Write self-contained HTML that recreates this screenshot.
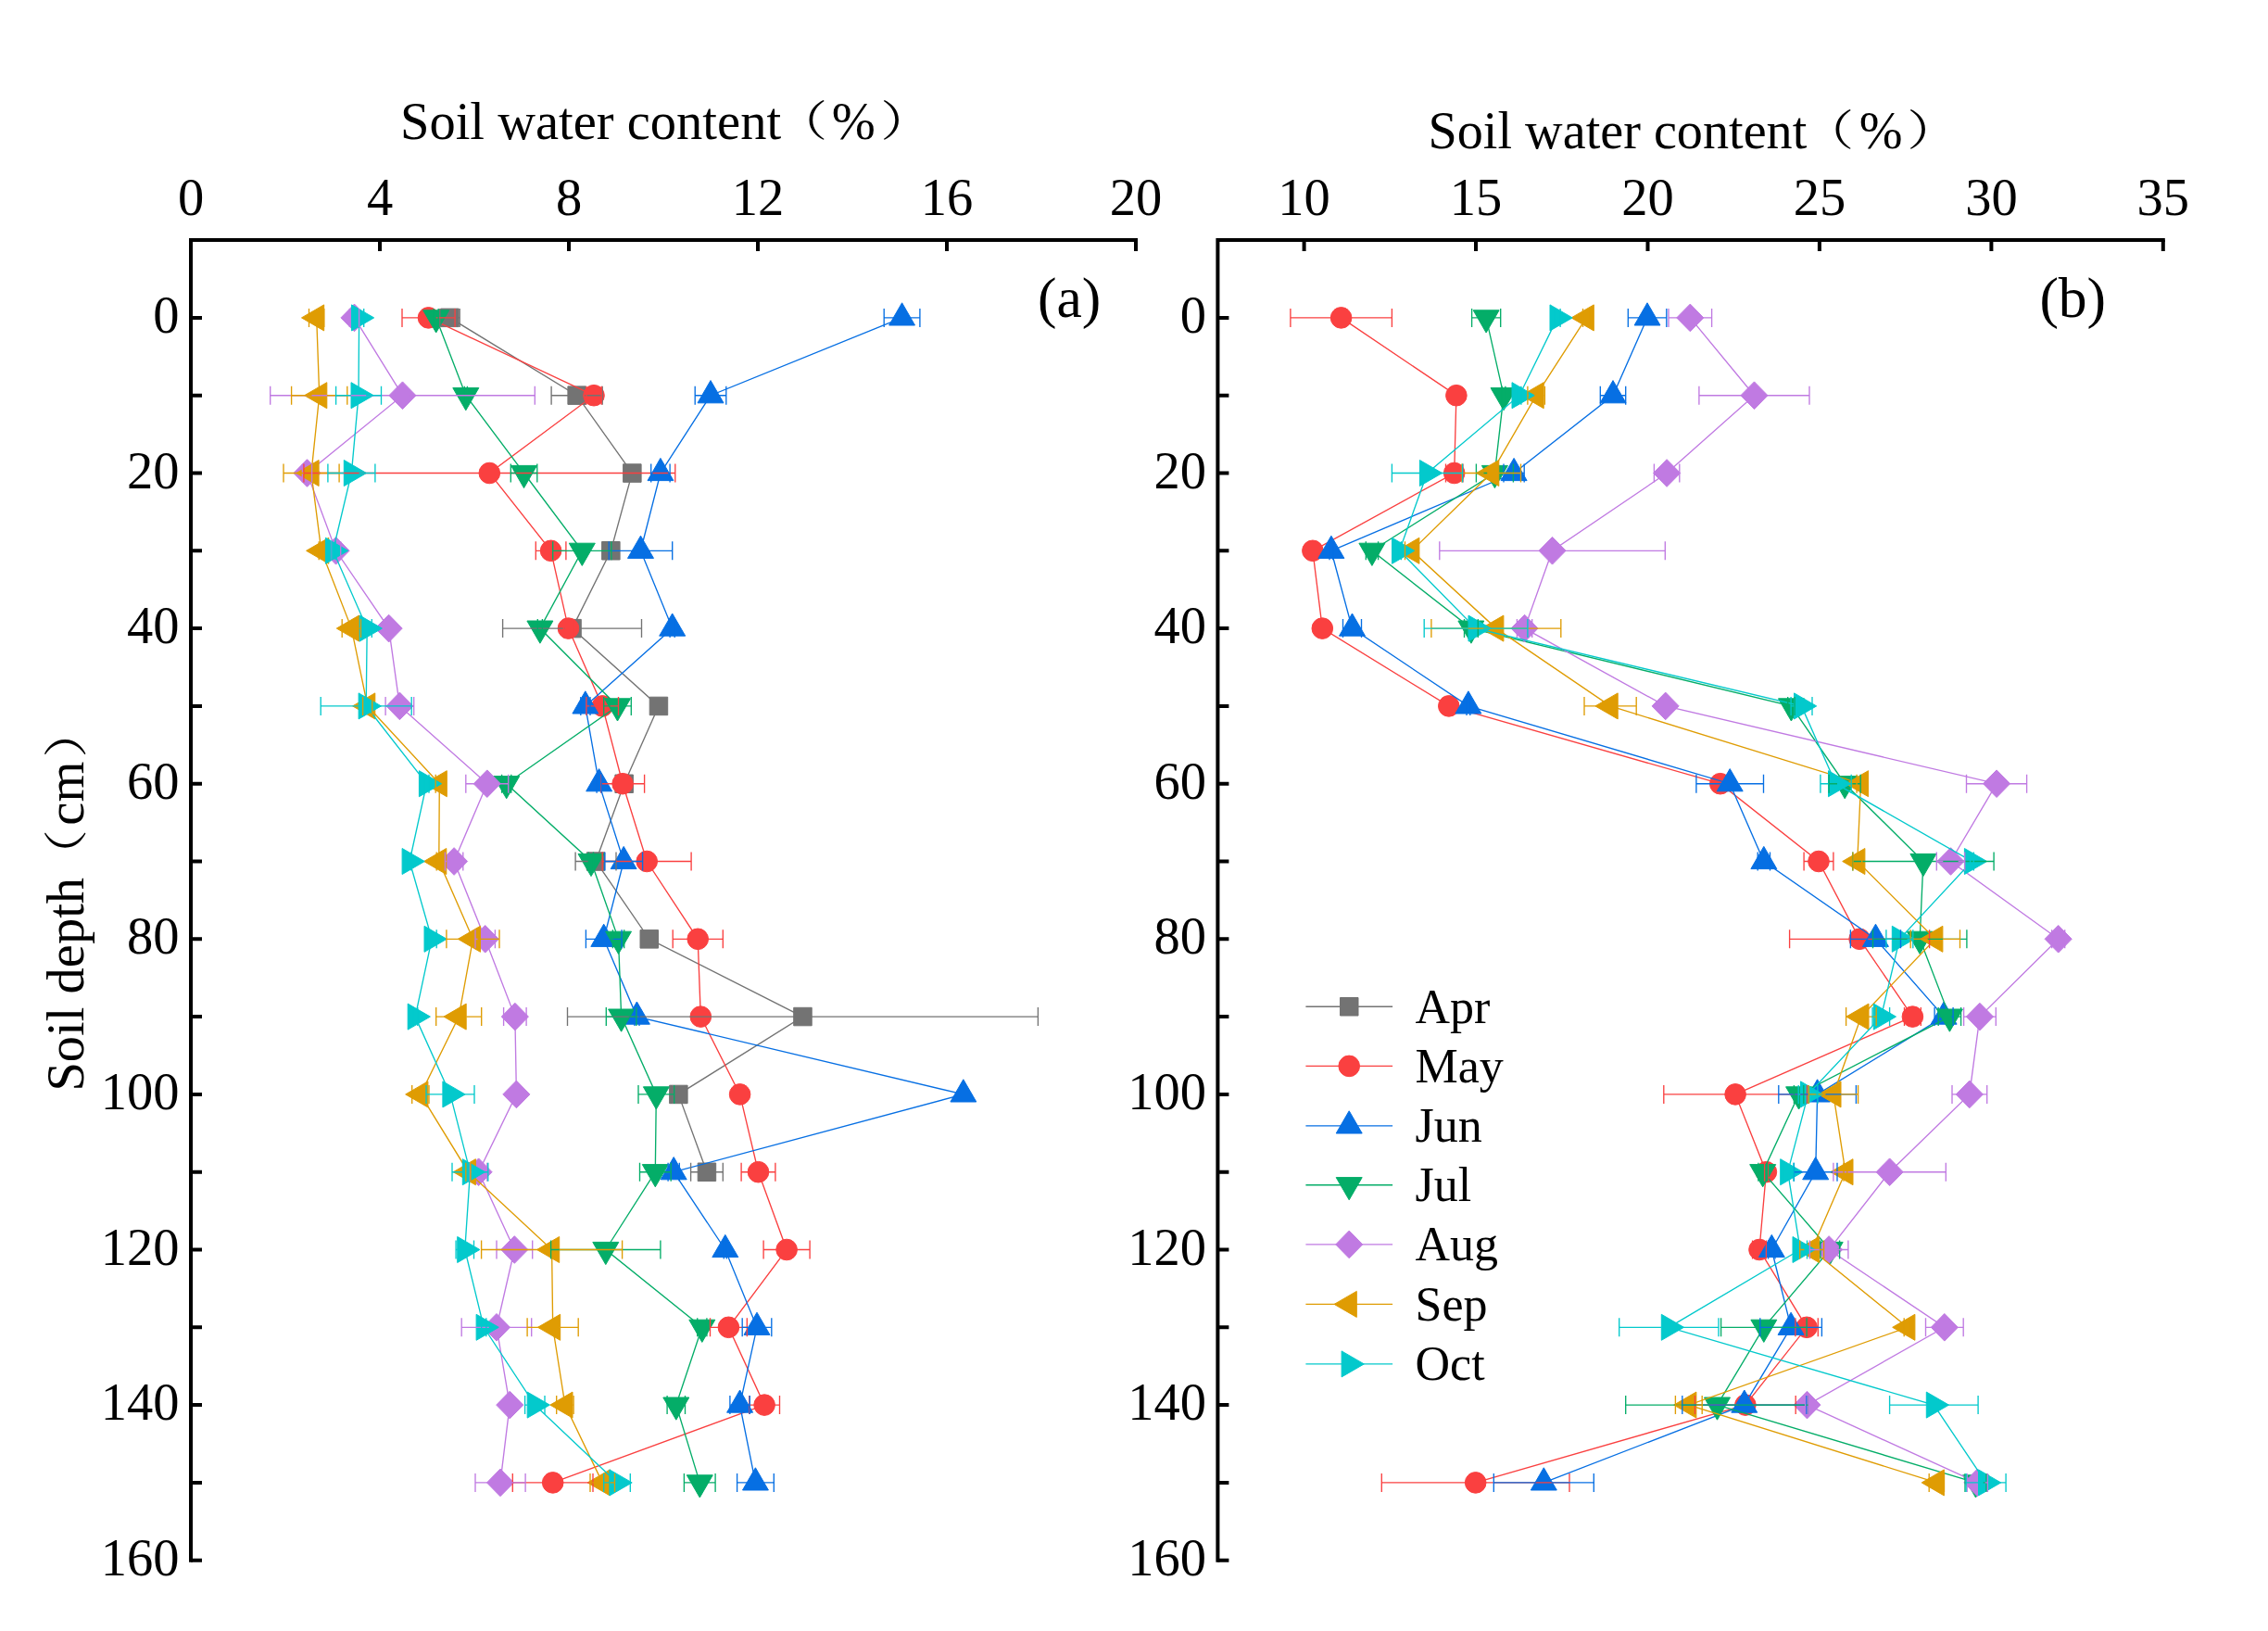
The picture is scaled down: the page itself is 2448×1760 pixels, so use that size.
<!DOCTYPE html>
<html lang="en"><head><meta charset="utf-8"><title>Soil water content profiles</title>
<style>
html,body{margin:0;padding:0;background:#fff}
body{width:2448px;height:1760px;overflow:hidden}
svg{display:block}
text{font-family:"Liberation Serif","Noto Serif CJK SC",serif;fill:#000}
.t{font-size:56.5px}
.l{font-size:52px}
.p{font-size:61.5px}
</style></head><body>
<svg width="2448" height="1760" viewBox="0 0 2448 1760">
<rect width="2448" height="1760" fill="#fff"/>
<g stroke="#737373" stroke-width="1.35" fill="none">
<polyline points="485.5,342.9 622.7,426.7 682.3,510.5 659.4,594.3 617.6,678.1 710.9,761.9 673.7,845.7 643.1,929.5 700.7,1013.3 866.4,1097.1 732.3,1180.9 762.9,1264.7"/>
</g>
<g fill="#737373" stroke="#737373" stroke-width="1.0" stroke-linejoin="round">
<rect x="475.7" y="333.1" width="19.5" height="19.5"/>
<rect x="612.9" y="416.9" width="19.5" height="19.5"/>
<rect x="672.6" y="500.8" width="19.5" height="19.5"/>
<rect x="649.6" y="584.5" width="19.5" height="19.5"/>
<rect x="607.8" y="668.4" width="19.5" height="19.5"/>
<rect x="701.2" y="752.2" width="19.5" height="19.5"/>
<rect x="663.9" y="836" width="19.5" height="19.5"/>
<rect x="633.3" y="919.8" width="19.5" height="19.5"/>
<rect x="691" y="1003.6" width="19.5" height="19.5"/>
<rect x="856.7" y="1087.3" width="19.5" height="19.5"/>
<rect x="722.6" y="1171.2" width="19.5" height="19.5"/>
<rect x="753.2" y="1255" width="19.5" height="19.5"/>
</g>
<g stroke="#FA4040" stroke-width="1.35" fill="none">
<polyline points="462.5,342.9 641,426.7 528.3,510.5 594.6,594.3 613.5,678.1 650.2,761.9 672.1,845.7 698.2,929.5 753.2,1013.3 756.3,1097.1 798.6,1180.9 818.5,1264.7 849.1,1348.5 786.4,1432.3 825.1,1516.1 596.7,1599.9"/>
</g>
<g fill="#FA4040" stroke="#FA4040" stroke-width="1.0" stroke-linejoin="round">
<circle cx="462.5" cy="342.9" r="11.3"/>
<circle cx="641" cy="426.7" r="11.3"/>
<circle cx="528.3" cy="510.5" r="11.3"/>
<circle cx="594.6" cy="594.3" r="11.3"/>
<circle cx="613.5" cy="678.1" r="11.3"/>
<circle cx="650.2" cy="761.9" r="11.3"/>
<circle cx="672.1" cy="845.7" r="11.3"/>
<circle cx="698.2" cy="929.5" r="11.3"/>
<circle cx="753.2" cy="1013.3" r="11.3"/>
<circle cx="756.3" cy="1097.1" r="11.3"/>
<circle cx="798.6" cy="1180.9" r="11.3"/>
<circle cx="818.5" cy="1264.7" r="11.3"/>
<circle cx="849.1" cy="1348.5" r="11.3"/>
<circle cx="786.4" cy="1432.3" r="11.3"/>
<circle cx="825.1" cy="1516.1" r="11.3"/>
<circle cx="596.7" cy="1599.9" r="11.3"/>
</g>
<g stroke="#066FE3" stroke-width="1.35" fill="none">
<polyline points="973.6,342.9 767,426.7 712.9,510.5 691.5,594.3 725.7,678.1 631.8,761.9 646.6,845.7 673.2,929.5 651.7,1013.3 687.4,1097.1 1039.8,1180.9 727.2,1264.7 782.8,1348.5 817,1432.3 798.6,1516.1 815.4,1599.9"/>
</g>
<g fill="#066FE3" stroke="#066FE3" stroke-width="1.0" stroke-linejoin="round">
<polygon points="973.6,326.8 959.6,351 987.5,351"/>
<polygon points="767,410.6 753,434.8 781,434.8"/>
<polygon points="712.9,494.4 699,518.6 726.9,518.6"/>
<polygon points="691.5,578.2 677.5,602.4 705.5,602.4"/>
<polygon points="725.7,662 711.7,686.2 739.7,686.2"/>
<polygon points="631.8,745.8 617.9,770 645.8,770"/>
<polygon points="646.6,829.6 632.7,853.8 660.6,853.8"/>
<polygon points="673.2,913.4 659.2,937.6 687.1,937.6"/>
<polygon points="651.7,997.2 637.8,1021.4 665.7,1021.4"/>
<polygon points="687.4,1081 673.5,1105.2 701.4,1105.2"/>
<polygon points="1039.8,1164.8 1025.9,1189 1053.8,1189"/>
<polygon points="727.2,1248.6 713.2,1272.8 741.2,1272.8"/>
<polygon points="782.8,1332.4 768.8,1356.6 796.8,1356.6"/>
<polygon points="817,1416.2 803,1440.4 831,1440.4"/>
<polygon points="798.6,1500 784.6,1524.2 812.6,1524.2"/>
<polygon points="815.4,1583.8 801.5,1608 829.4,1608"/>
</g>
<g stroke="#04AD68" stroke-width="1.35" fill="none">
<polyline points="470.7,342.9 502.8,426.7 565.5,510.5 628.3,594.3 582.9,678.1 666.5,761.9 546.7,845.7 638,929.5 667.5,1013.3 670.6,1097.1 708.3,1180.9 707.3,1264.7 653.8,1348.5 757.8,1432.3 729.8,1516.1 755.3,1599.9"/>
</g>
<g fill="#04AD68" stroke="#04AD68" stroke-width="1.0" stroke-linejoin="round">
<polygon points="470.7,359 456.7,334.8 484.7,334.8"/>
<polygon points="502.8,442.8 488.8,418.6 516.8,418.6"/>
<polygon points="565.5,526.6 551.6,502.4 579.5,502.4"/>
<polygon points="628.3,610.4 614.3,586.2 642.3,586.2"/>
<polygon points="582.9,694.2 568.9,670 596.9,670"/>
<polygon points="666.5,778 652.5,753.8 680.5,753.8"/>
<polygon points="546.7,861.8 532.7,837.6 560.7,837.6"/>
<polygon points="638,945.6 624,921.4 652,921.4"/>
<polygon points="667.5,1029.4 653.6,1005.2 681.5,1005.2"/>
<polygon points="670.6,1113.2 656.6,1089 684.6,1089"/>
<polygon points="708.3,1197 694.4,1172.8 722.3,1172.8"/>
<polygon points="707.3,1280.8 693.3,1256.6 721.3,1256.6"/>
<polygon points="653.8,1364.6 639.8,1340.4 667.8,1340.4"/>
<polygon points="757.8,1448.4 743.8,1424.2 771.8,1424.2"/>
<polygon points="729.8,1532.2 715.8,1508 743.8,1508"/>
<polygon points="755.3,1616 741.3,1591.8 769.3,1591.8"/>
</g>
<g stroke="#C07AE2" stroke-width="1.35" fill="none">
<polyline points="382.5,342.9 434.5,426.7 331.5,510.5 362.6,594.3 419.7,678.1 431.4,761.9 525.8,845.7 490.1,929.5 523.7,1013.3 555.9,1097.1 557.4,1180.9 516.6,1264.7 555.3,1348.5 536,1432.3 550.2,1516.1 540,1599.9"/>
</g>
<g fill="#C07AE2" stroke="#C07AE2" stroke-width="1.0" stroke-linejoin="round">
<polygon points="382.5,328.1 397,342.9 382.5,357.7 367.9,342.9"/>
<polygon points="434.5,411.9 449,426.7 434.5,441.5 419.9,426.7"/>
<polygon points="331.5,495.7 346,510.5 331.5,525.3 316.9,510.5"/>
<polygon points="362.6,579.5 377.1,594.3 362.6,609.1 348,594.3"/>
<polygon points="419.7,663.3 434.2,678.1 419.7,692.9 405.1,678.1"/>
<polygon points="431.4,747.1 446,761.9 431.4,776.7 416.9,761.9"/>
<polygon points="525.8,830.9 540.3,845.7 525.8,860.5 511.2,845.7"/>
<polygon points="490.1,914.7 504.6,929.5 490.1,944.3 475.5,929.5"/>
<polygon points="523.7,998.5 538.3,1013.3 523.7,1028.1 509.2,1013.3"/>
<polygon points="555.9,1082.3 570.4,1097.1 555.9,1111.9 541.3,1097.1"/>
<polygon points="557.4,1166.1 571.9,1180.9 557.4,1195.7 542.8,1180.9"/>
<polygon points="516.6,1249.9 531.1,1264.7 516.6,1279.5 502,1264.7"/>
<polygon points="555.3,1333.7 569.9,1348.5 555.3,1363.3 540.8,1348.5"/>
<polygon points="536,1417.5 550.5,1432.3 536,1447.1 521.4,1432.3"/>
<polygon points="550.2,1501.3 564.8,1516.1 550.2,1530.9 535.7,1516.1"/>
<polygon points="540,1585.1 554.6,1599.9 540,1614.7 525.5,1599.9"/>
</g>
<g stroke="#DF9C03" stroke-width="1.35" fill="none">
<polyline points="341.7,342.9 344.7,426.7 336,510.5 346.8,594.3 379.4,678.1 396.7,761.9 474.3,845.7 473.8,929.5 510.5,1013.3 495.2,1097.1 453.9,1180.9 505.4,1264.7 595.6,1348.5 596.7,1432.3 609.9,1516.1 650.2,1599.9"/>
</g>
<g fill="#DF9C03" stroke="#DF9C03" stroke-width="1.0" stroke-linejoin="round">
<polygon points="325.5,342.9 349.7,328.9 349.7,356.9"/>
<polygon points="328.6,426.7 352.8,412.7 352.8,440.7"/>
<polygon points="319.9,510.5 344.1,496.5 344.1,524.5"/>
<polygon points="330.6,594.3 354.8,580.3 354.8,608.3"/>
<polygon points="363.3,678.1 387.5,664.1 387.5,692.1"/>
<polygon points="380.6,761.9 404.8,747.9 404.8,775.9"/>
<polygon points="458.1,845.7 482.3,831.7 482.3,859.7"/>
<polygon points="457.6,929.5 481.8,915.5 481.8,943.5"/>
<polygon points="494.3,1013.3 518.5,999.3 518.5,1027.3"/>
<polygon points="479,1097.1 503.2,1083.1 503.2,1111.1"/>
<polygon points="437.7,1180.9 461.9,1166.9 461.9,1194.9"/>
<polygon points="489.2,1264.7 513.4,1250.7 513.4,1278.7"/>
<polygon points="579.5,1348.5 603.7,1334.5 603.7,1362.5"/>
<polygon points="580.5,1432.3 604.7,1418.3 604.7,1446.3"/>
<polygon points="593.8,1516.1 618,1502.1 618,1530.1"/>
<polygon points="634.1,1599.9 658.3,1585.9 658.3,1613.9"/>
</g>
<g stroke="#03C9CC" stroke-width="1.35" fill="none">
<polyline points="387.6,342.9 387,426.7 379.4,510.5 359.5,594.3 396.2,678.1 395.2,761.9 460.5,845.7 442.1,929.5 466.1,1013.3 448.2,1097.1 486,1180.9 507.4,1264.7 501.8,1348.5 522.2,1432.3 577.3,1516.1 666,1599.9"/>
</g>
<g fill="#03C9CC" stroke="#03C9CC" stroke-width="1.0" stroke-linejoin="round">
<polygon points="403.7,342.9 379.5,328.9 379.5,356.9"/>
<polygon points="403.2,426.7 379,412.7 379,440.7"/>
<polygon points="395.5,510.5 371.3,496.5 371.3,524.5"/>
<polygon points="375.7,594.3 351.4,580.3 351.4,608.3"/>
<polygon points="412.4,678.1 388.2,664.1 388.2,692.1"/>
<polygon points="411.4,761.9 387.1,747.9 387.1,775.9"/>
<polygon points="476.6,845.7 452.4,831.7 452.4,859.7"/>
<polygon points="458.3,929.5 434.1,915.5 434.1,943.5"/>
<polygon points="482.2,1013.3 458,999.3 458,1027.3"/>
<polygon points="464.4,1097.1 440.2,1083.1 440.2,1111.1"/>
<polygon points="502.1,1180.9 477.9,1166.9 477.9,1194.9"/>
<polygon points="523.6,1264.7 499.3,1250.7 499.3,1278.7"/>
<polygon points="517.9,1348.5 493.7,1334.5 493.7,1362.5"/>
<polygon points="538.3,1432.3 514.1,1418.3 514.1,1446.3"/>
<polygon points="593.4,1516.1 569.2,1502.1 569.2,1530.1"/>
<polygon points="682.2,1599.9 657.9,1585.9 657.9,1613.9"/>
</g>
<path d="M474.8 342.9H477.3M493.7 342.9H496.2M474.8 332.9V352.9M496.2 332.9V352.9M595.1 426.7H614.5M630.9 426.7H650.2M595.1 416.7V436.7M650.2 416.7V436.7M542.6 678.1H609.4M625.8 678.1H692.5M542.6 668.1V688.1M692.5 668.1V688.1M621.1 929.5H634.9M651.3 929.5H665M621.1 919.5V939.5M665 919.5V939.5M612.5 1097.1H858.2M874.6 1097.1H1120.4M612.5 1087.1V1107.1M1120.4 1087.1V1107.1M724.7 1170.9V1190.9M740 1170.9V1190.9M745.6 1264.7H754.7M771.1 1264.7H780.3M745.6 1254.7V1274.7M780.3 1254.7V1274.7" stroke="#737373" stroke-width="1.35" fill="none"/>
<path d="M434 342.9H454.3M470.7 342.9H491.1M434 332.9V352.9M491.1 332.9V352.9M632.9 416.7V436.7M649.2 416.7V436.7M327.9 510.5H520.1M536.5 510.5H728.8M327.9 500.5V520.5M728.8 500.5V520.5M578.3 594.3H586.4M602.8 594.3H610.9M578.3 584.3V604.3M610.9 584.3V604.3M608.4 668.1V688.1M618.6 668.1V688.1M632.9 761.9H642M658.4 761.9H667.5M632.9 751.9V771.9M667.5 751.9V771.9M648.7 845.7H663.9M680.3 845.7H695.6M648.7 835.7V855.7M695.6 835.7V855.7M650.2 929.5H690M706.4 929.5H746.1M650.2 919.5V939.5M746.1 919.5V939.5M726.2 1013.3H745M761.4 1013.3H780.3M726.2 1003.3V1023.3M780.3 1003.3V1023.3M800.1 1264.7H810.3M826.7 1264.7H836.9M800.1 1254.7V1274.7M836.9 1254.7V1274.7M824.1 1348.5H840.9M857.3 1348.5H874.1M824.1 1338.5V1358.5M874.1 1338.5V1358.5M766.5 1432.3H778.2M794.6 1432.3H806.3M766.5 1422.3V1442.3M806.3 1422.3V1442.3M808.8 1516.1H816.9M833.3 1516.1H841.5M808.8 1506.1V1526.1M841.5 1506.1V1526.1M553.3 1599.9H588.5M604.9 1599.9H640M553.3 1589.9V1609.9M640 1589.9V1609.9" stroke="#FA4040" stroke-width="1.35" fill="none"/>
<path d="M954.2 342.9H965.4M981.8 342.9H992.9M954.2 332.9V352.9M992.9 332.9V352.9M750.2 426.7H758.8M775.2 426.7H783.8M750.2 416.7V436.7M783.8 416.7V436.7M702.7 510.5H704.7M721.1 510.5H723.1M702.7 500.5V520.5M723.1 500.5V520.5M657.3 594.3H683.3M699.7 594.3H725.7M657.3 584.3V604.3M725.7 584.3V604.3M723.1 668.1V688.1M728.2 668.1V688.1M626.8 751.9V771.9M637 751.9V771.9M644.1 835.7V855.7M649.2 835.7V855.7M652.8 929.5H665M681.4 929.5H693.6M652.8 919.5V939.5M693.6 919.5V939.5M632.4 1013.3H643.5M659.9 1013.3H671.1M632.4 1003.3V1023.3M671.1 1003.3V1023.3M684.9 1087.1V1107.1M690 1087.1V1107.1M721.1 1254.7V1274.7M733.3 1254.7V1274.7M781.3 1338.5V1358.5M784.3 1338.5V1358.5M801.2 1432.3H808.8M825.2 1432.3H832.8M801.2 1422.3V1442.3M832.8 1422.3V1442.3M787.9 1516.1H790.4M806.8 1516.1H809.3M787.9 1506.1V1526.1M809.3 1506.1V1526.1M795.6 1599.9H807.2M823.6 1599.9H835.3M795.6 1589.9V1609.9M835.3 1589.9V1609.9" stroke="#066FE3" stroke-width="1.35" fill="none"/>
<path d="M468.1 332.9V352.9M473.2 332.9V352.9M501.3 416.7V436.7M504.4 416.7V436.7M551.3 510.5H557.3M573.8 510.5H579.8M551.3 500.5V520.5M579.8 500.5V520.5M596.7 594.3H620.1M636.5 594.3H659.9M596.7 584.3V604.3M659.9 584.3V604.3M580.3 668.1V688.1M585.4 668.1V688.1M651.7 761.9H658.3M674.7 761.9H681.3M651.7 751.9V771.9M681.3 751.9V771.9M541.6 835.7V855.7M551.8 835.7V855.7M635.4 919.5V939.5M640.5 919.5V939.5M661.4 1003.3V1023.3M673.7 1003.3V1023.3M654.3 1097.1H662.4M678.8 1097.1H686.9M654.3 1087.1V1107.1M686.9 1087.1V1107.1M689 1180.9H700.1M716.5 1180.9H727.7M689 1170.9V1190.9M727.7 1170.9V1190.9M690.5 1264.7H699.1M715.5 1264.7H724.2M690.5 1254.7V1274.7M724.2 1254.7V1274.7M594.6 1348.5H645.6M662 1348.5H712.9M594.6 1338.5V1358.5M712.9 1338.5V1358.5M752.7 1422.3V1442.3M762.9 1422.3V1442.3M720.1 1516.1H721.6M738 1516.1H739.5M720.1 1506.1V1526.1M739.5 1506.1V1526.1M738.4 1599.9H747.1M763.5 1599.9H772.1M738.4 1589.9V1609.9M772.1 1589.9V1609.9" stroke="#04AD68" stroke-width="1.35" fill="none"/>
<path d="M377.4 332.9V352.9M387.6 332.9V352.9M291.7 426.7H426.3M442.7 426.7H577.3M291.7 416.7V436.7M577.3 416.7V436.7M326.4 500.5V520.5M336.6 500.5V520.5M357.5 584.3V604.3M367.7 584.3V604.3M416.1 761.9H423.2M439.6 761.9H446.7M416.1 751.9V771.9M446.7 751.9V771.9M502.8 845.7H517.6M534 845.7H548.7M502.8 835.7V855.7M548.7 835.7V855.7M480.4 929.5H481.9M498.3 929.5H499.8M480.4 919.5V939.5M499.8 919.5V939.5M513 1013.3H515.5M531.9 1013.3H534.4M513 1003.3V1023.3M534.4 1003.3V1023.3M543.6 1097.1H547.7M564.1 1097.1H568.1M543.6 1087.1V1107.1M568.1 1087.1V1107.1M507.4 1264.7H508.4M524.8 1264.7H525.8M507.4 1254.7V1274.7M525.8 1254.7V1274.7M536 1348.5H547.1M563.5 1348.5H574.7M536 1338.5V1358.5M574.7 1338.5V1358.5M498.2 1432.3H527.8M544.2 1432.3H573.7M498.2 1422.3V1442.3M573.7 1422.3V1442.3M513 1599.9H531.8M548.2 1599.9H567.1M513 1589.9V1609.9M567.1 1589.9V1609.9" stroke="#C07AE2" stroke-width="1.35" fill="none"/>
<path d="M333.5 332.9V352.9M349.8 332.9V352.9M314.6 426.7H336.5M352.9 426.7H374.8M314.6 416.7V436.7M374.8 416.7V436.7M306 510.5H327.8M344.2 510.5H366.1M306 500.5V520.5M366.1 500.5V520.5M344.2 584.3V604.3M349.3 584.3V604.3M369.2 678.1H371.2M387.6 678.1H389.6M369.2 668.1V688.1M389.6 668.1V688.1M391.6 751.9V771.9M401.8 751.9V771.9M470.2 835.7V855.7M478.3 835.7V855.7M471.2 919.5V939.5M476.3 919.5V939.5M481.9 1013.3H502.3M518.7 1013.3H539M481.9 1003.3V1023.3M539 1003.3V1023.3M470.7 1097.1H487M503.4 1097.1H519.7M470.7 1087.1V1107.1M519.7 1087.1V1107.1M444.7 1180.9H445.7M462.1 1180.9H463M444.7 1170.9V1190.9M463 1170.9V1190.9M502.8 1254.7V1274.7M507.9 1254.7V1274.7M519.6 1348.5H587.4M603.8 1348.5H671.6M519.6 1338.5V1358.5M671.6 1338.5V1358.5M569.1 1432.3H588.5M604.9 1432.3H624.2M569.1 1422.3V1442.3M624.2 1422.3V1442.3M600.7 1516.1H601.7M618.1 1516.1H619.1M600.7 1506.1V1526.1M619.1 1506.1V1526.1M637 1599.9H642M658.4 1599.9H663.5M637 1589.9V1609.9M663.5 1589.9V1609.9" stroke="#DF9C03" stroke-width="1.35" fill="none"/>
<path d="M382.5 332.9V352.9M392.7 332.9V352.9M362.6 426.7H378.8M395.2 426.7H411.5M362.6 416.7V436.7M411.5 416.7V436.7M353.9 510.5H371.2M387.6 510.5H404.9M353.9 500.5V520.5M404.9 500.5V520.5M357 584.3V604.3M362.1 584.3V604.3M391.1 668.1V688.1M401.3 668.1V688.1M346.2 761.9H387M403.4 761.9H444.2M346.2 751.9V771.9M444.2 751.9V771.9M457.9 835.7V855.7M463 835.7V855.7M440.6 919.5V939.5M443.7 919.5V939.5M461 1003.3V1023.3M471.2 1003.3V1023.3M445.7 1087.1V1107.1M450.8 1087.1V1107.1M460 1180.9H477.8M494.2 1180.9H512M460 1170.9V1190.9M512 1170.9V1190.9M488 1264.7H499.2M515.6 1264.7H526.8M488 1254.7V1274.7M526.8 1254.7V1274.7M492.1 1348.5H493.6M510 1348.5H511.5M492.1 1338.5V1358.5M511.5 1338.5V1358.5M519.7 1422.3V1442.3M524.8 1422.3V1442.3M566.6 1516.1H569.1M585.5 1516.1H588M566.6 1506.1V1526.1M588 1506.1V1526.1M651.7 1599.9H657.8M674.2 1599.9H680.3M651.7 1589.9V1609.9M680.3 1589.9V1609.9" stroke="#03C9CC" stroke-width="1.35" fill="none"/>
<g stroke="#FA4040" stroke-width="1.35" fill="none">
<polyline points="1447.6,342.9 1571.9,426.7 1569.7,510.5 1416.9,594.3 1427.3,678.1 1563.8,761.9 1856.8,845.7 1963,929.5 2007.1,1013.3 2064.4,1097.1 1873.1,1180.9 1906.4,1264.7 1899,1348.5 1950.1,1432.3 1883.9,1516.1 1592.7,1599.9"/>
</g>
<g fill="#FA4040" stroke="#FA4040" stroke-width="1.0" stroke-linejoin="round">
<circle cx="1447.6" cy="342.9" r="11.3"/>
<circle cx="1571.9" cy="426.7" r="11.3"/>
<circle cx="1569.7" cy="510.5" r="11.3"/>
<circle cx="1416.9" cy="594.3" r="11.3"/>
<circle cx="1427.3" cy="678.1" r="11.3"/>
<circle cx="1563.8" cy="761.9" r="11.3"/>
<circle cx="1856.8" cy="845.7" r="11.3"/>
<circle cx="1963" cy="929.5" r="11.3"/>
<circle cx="2007.1" cy="1013.3" r="11.3"/>
<circle cx="2064.4" cy="1097.1" r="11.3"/>
<circle cx="1873.1" cy="1180.9" r="11.3"/>
<circle cx="1906.4" cy="1264.7" r="11.3"/>
<circle cx="1899" cy="1348.5" r="11.3"/>
<circle cx="1950.1" cy="1432.3" r="11.3"/>
<circle cx="1883.9" cy="1516.1" r="11.3"/>
<circle cx="1592.7" cy="1599.9" r="11.3"/>
</g>
<g stroke="#066FE3" stroke-width="1.35" fill="none">
<polyline points="1778,342.9 1741,426.7 1634.1,510.5 1436.9,594.3 1459.5,678.1 1584.9,761.9 1867.2,845.7 1903.8,929.5 2024.5,1013.3 2098.1,1097.1 1961.6,1180.9 1959.7,1264.7 1912.3,1348.5 1933.1,1432.3 1882.8,1516.1 1666.3,1599.9"/>
</g>
<g fill="#066FE3" stroke="#066FE3" stroke-width="1.0" stroke-linejoin="round">
<polygon points="1778,326.8 1764.1,351 1792,351"/>
<polygon points="1741,410.6 1727.1,434.8 1755,434.8"/>
<polygon points="1634.1,494.4 1620.1,518.6 1648.1,518.6"/>
<polygon points="1436.9,578.2 1422.9,602.4 1450.9,602.4"/>
<polygon points="1459.5,662 1445.5,686.2 1473.5,686.2"/>
<polygon points="1584.9,745.8 1570.9,770 1598.9,770"/>
<polygon points="1867.2,829.6 1853.2,853.8 1881.2,853.8"/>
<polygon points="1903.8,913.4 1889.9,937.6 1917.8,937.6"/>
<polygon points="2024.5,997.2 2010.5,1021.4 2038.4,1021.4"/>
<polygon points="2098.1,1081 2084.1,1105.2 2112.1,1105.2"/>
<polygon points="1961.6,1164.8 1947.6,1189 1975.5,1189"/>
<polygon points="1959.7,1248.6 1945.7,1272.8 1973.7,1272.8"/>
<polygon points="1912.3,1332.4 1898.4,1356.6 1926.3,1356.6"/>
<polygon points="1933.1,1416.2 1919.1,1440.4 1947.1,1440.4"/>
<polygon points="1882.8,1500 1868.8,1524.2 1896.7,1524.2"/>
<polygon points="1666.3,1583.8 1652.3,1608 1680.3,1608"/>
</g>
<g stroke="#04AD68" stroke-width="1.35" fill="none">
<polyline points="1604.1,342.9 1623,426.7 1613.4,510.5 1480.9,594.3 1587.9,678.1 1933.4,761.9 1991.2,845.7 2075.9,929.5 2072.2,1013.3 2104.4,1097.1 1941.6,1180.9 1902.7,1264.7 1975.2,1348.5 1903.8,1432.3 1853.5,1516.1 2132.5,1599.9"/>
</g>
<g fill="#04AD68" stroke="#04AD68" stroke-width="1.0" stroke-linejoin="round">
<polygon points="1604.1,359 1590.2,334.8 1618.1,334.8"/>
<polygon points="1623,442.8 1609,418.6 1637,418.6"/>
<polygon points="1613.4,526.6 1599.4,502.4 1627.4,502.4"/>
<polygon points="1480.9,610.4 1466.9,586.2 1494.9,586.2"/>
<polygon points="1587.9,694.2 1573.9,670 1601.8,670"/>
<polygon points="1933.4,778 1919.5,753.8 1947.4,753.8"/>
<polygon points="1991.2,861.8 1977.2,837.6 2005.1,837.6"/>
<polygon points="2075.9,945.6 2061.9,921.4 2089.9,921.4"/>
<polygon points="2072.2,1029.4 2058.2,1005.2 2086.2,1005.2"/>
<polygon points="2104.4,1113.2 2090.4,1089 2118.4,1089"/>
<polygon points="1941.6,1197 1927.6,1172.8 1955.6,1172.8"/>
<polygon points="1902.7,1280.8 1888.7,1256.6 1916.7,1256.6"/>
<polygon points="1975.2,1364.6 1961.3,1340.4 1989.2,1340.4"/>
<polygon points="1903.8,1448.4 1889.9,1424.2 1917.8,1424.2"/>
<polygon points="1853.5,1532.2 1839.5,1508 1867.5,1508"/>
<polygon points="2132.5,1616 2118.5,1591.8 2146.5,1591.8"/>
</g>
<g stroke="#C07AE2" stroke-width="1.35" fill="none">
<polyline points="1824.3,342.9 1893.5,426.7 1799.1,510.5 1675.5,594.3 1645.6,678.1 1797.7,761.9 2155.1,845.7 2105.5,929.5 2221.7,1013.3 2136.9,1097.1 2125.8,1180.9 2039.6,1264.7 1974.1,1348.5 2098.8,1432.3 1950.5,1516.1 2134.3,1599.9"/>
</g>
<g fill="#C07AE2" stroke="#C07AE2" stroke-width="1.0" stroke-linejoin="round">
<polygon points="1824.3,328.1 1838.8,342.9 1824.3,357.7 1809.7,342.9"/>
<polygon points="1893.5,411.9 1908,426.7 1893.5,441.5 1878.9,426.7"/>
<polygon points="1799.1,495.7 1813.7,510.5 1799.1,525.3 1784.6,510.5"/>
<polygon points="1675.5,579.5 1690.1,594.3 1675.5,609.1 1661,594.3"/>
<polygon points="1645.6,663.3 1660.1,678.1 1645.6,692.9 1631,678.1"/>
<polygon points="1797.7,747.1 1812.2,761.9 1797.7,776.7 1783.1,761.9"/>
<polygon points="2155.1,830.9 2169.6,845.7 2155.1,860.5 2140.5,845.7"/>
<polygon points="2105.5,914.7 2120,929.5 2105.5,944.3 2090.9,929.5"/>
<polygon points="2221.7,998.5 2236.2,1013.3 2221.7,1028.1 2207.1,1013.3"/>
<polygon points="2136.9,1082.3 2151.5,1097.1 2136.9,1111.9 2122.4,1097.1"/>
<polygon points="2125.8,1166.1 2140.4,1180.9 2125.8,1195.7 2111.3,1180.9"/>
<polygon points="2039.6,1249.9 2054.2,1264.7 2039.6,1279.5 2025.1,1264.7"/>
<polygon points="1974.1,1333.7 1988.7,1348.5 1974.1,1363.3 1959.6,1348.5"/>
<polygon points="2098.8,1417.5 2113.4,1432.3 2098.8,1447.1 2084.3,1432.3"/>
<polygon points="1950.5,1501.3 1965,1516.1 1950.5,1530.9 1935.9,1516.1"/>
<polygon points="2134.3,1585.1 2148.9,1599.9 2134.3,1614.7 2119.8,1599.9"/>
</g>
<g stroke="#DF9C03" stroke-width="1.35" fill="none">
<polyline points="1712.2,342.9 1658.2,426.7 1609.7,510.5 1523.8,594.3 1614.9,678.1 1738.1,761.9 2008.5,845.7 2004.8,929.5 2088.8,1013.3 2008.9,1097.1 1978.9,1180.9 1991.9,1264.7 1955.6,1348.5 2058.9,1432.3 1822.8,1516.1 2090.3,1599.9"/>
</g>
<g fill="#DF9C03" stroke="#DF9C03" stroke-width="1.0" stroke-linejoin="round">
<polygon points="1696,342.9 1720.3,328.9 1720.3,356.9"/>
<polygon points="1642,426.7 1666.2,412.7 1666.2,440.7"/>
<polygon points="1593.5,510.5 1617.8,496.5 1617.8,524.5"/>
<polygon points="1507.7,594.3 1531.9,580.3 1531.9,608.3"/>
<polygon points="1598.7,678.1 1622.9,664.1 1622.9,692.1"/>
<polygon points="1721.9,761.9 1746.2,747.9 1746.2,775.9"/>
<polygon points="1992.4,845.7 2016.6,831.7 2016.6,859.7"/>
<polygon points="1988.7,929.5 2012.9,915.5 2012.9,943.5"/>
<polygon points="2072.7,1013.3 2096.9,999.3 2096.9,1027.3"/>
<polygon points="1992.8,1097.1 2017,1083.1 2017,1111.1"/>
<polygon points="1962.8,1180.9 1987,1166.9 1987,1194.9"/>
<polygon points="1975.8,1264.7 2000,1250.7 2000,1278.7"/>
<polygon points="1939.5,1348.5 1963.7,1334.5 1963.7,1362.5"/>
<polygon points="2042.7,1432.3 2066.9,1418.3 2066.9,1446.3"/>
<polygon points="1806.7,1516.1 1830.9,1502.1 1830.9,1530.1"/>
<polygon points="2074.2,1599.9 2098.4,1585.9 2098.4,1613.9"/>
</g>
<g stroke="#03C9CC" stroke-width="1.35" fill="none">
<polyline points="1681.1,342.9 1640,426.7 1540.5,510.5 1510.5,594.3 1593,678.1 1944.5,761.9 1981.5,845.7 2128.4,929.5 2050.4,1013.3 2030.4,1097.1 1951.6,1180.9 1929.7,1264.7 1943.1,1348.5 1801.3,1432.3 2087.4,1516.1 2143.6,1599.9"/>
</g>
<g fill="#03C9CC" stroke="#03C9CC" stroke-width="1.0" stroke-linejoin="round">
<polygon points="1697.2,342.9 1673,328.9 1673,356.9"/>
<polygon points="1656.2,426.7 1632,412.7 1632,440.7"/>
<polygon points="1556.6,510.5 1532.4,496.5 1532.4,524.5"/>
<polygon points="1526.7,594.3 1502.5,580.3 1502.5,608.3"/>
<polygon points="1609.2,678.1 1585,664.1 1585,692.1"/>
<polygon points="1960.7,761.9 1936.5,747.9 1936.5,775.9"/>
<polygon points="1997.7,845.7 1973.5,831.7 1973.5,859.7"/>
<polygon points="2144.6,929.5 2120.4,915.5 2120.4,943.5"/>
<polygon points="2066.5,1013.3 2042.3,999.3 2042.3,1027.3"/>
<polygon points="2046.5,1097.1 2022.3,1083.1 2022.3,1111.1"/>
<polygon points="1967.7,1180.9 1943.5,1166.9 1943.5,1194.9"/>
<polygon points="1945.9,1264.7 1921.7,1250.7 1921.7,1278.7"/>
<polygon points="1959.2,1348.5 1935,1334.5 1935,1362.5"/>
<polygon points="1817.5,1432.3 1793.3,1418.3 1793.3,1446.3"/>
<polygon points="2103.5,1516.1 2079.3,1502.1 2079.3,1530.1"/>
<polygon points="2159.7,1599.9 2135.5,1585.9 2135.5,1613.9"/>
</g>
<path d="M1392.9 342.9H1439.4M1455.8 342.9H1502.4M1392.9 332.9V352.9M1502.4 332.9V352.9M1560.5 510.5H1561.5M1577.9 510.5H1579M1560.5 500.5V520.5M1579 500.5V520.5M1947.1 929.5H1954.8M1971.2 929.5H1978.9M1947.1 919.5V939.5M1978.9 919.5V939.5M1931.6 1013.3H1998.9M2015.3 1013.3H2082.6M1931.6 1003.3V1023.3M2082.6 1003.3V1023.3M2055.5 1097.1H2056.2M2072.6 1097.1H2073.3M2055.5 1087.1V1107.1M2073.3 1087.1V1107.1M1795.8 1180.9H1864.9M1881.3 1180.9H1950.5M1795.8 1170.9V1190.9M1950.5 1170.9V1190.9M1904.6 1254.7V1274.7M1908.3 1254.7V1274.7M1891.6 1338.5V1358.5M1906.4 1338.5V1358.5M1937.9 1432.3H1941.9M1958.3 1432.3H1962.3M1937.9 1422.3V1442.3M1962.3 1422.3V1442.3M1829.5 1516.1H1875.7M1892.1 1516.1H1938.2M1829.5 1506.1V1526.1M1938.2 1506.1V1526.1M1491.3 1599.9H1584.5M1600.9 1599.9H1694M1491.3 1589.9V1609.9M1694 1589.9V1609.9" stroke="#FA4040" stroke-width="1.35" fill="none"/>
<path d="M1757.3 342.9H1769.8M1786.2 342.9H1798.8M1757.3 332.9V352.9M1798.8 332.9V352.9M1727.3 426.7H1732.8M1749.2 426.7H1754.7M1727.3 416.7V436.7M1754.7 416.7V436.7M1623 510.5H1625.9M1642.3 510.5H1645.2M1623 500.5V520.5M1645.2 500.5V520.5M1435 584.3V604.3M1438.8 584.3V604.3M1449.5 678.1H1451.3M1467.7 678.1H1469.5M1449.5 668.1V688.1M1469.5 668.1V688.1M1583 751.9V771.9M1586.8 751.9V771.9M1830.9 845.7H1859M1875.4 845.7H1903.5M1830.9 835.7V855.7M1903.5 835.7V855.7M1897.2 919.5V939.5M1910.5 919.5V939.5M1997.4 1013.3H2016.3M2032.7 1013.3H2051.5M1997.4 1003.3V1023.3M2051.5 1003.3V1023.3M2088.1 1097.1H2089.9M2106.3 1097.1H2108.1M2088.1 1087.1V1107.1M2108.1 1087.1V1107.1M1919.8 1180.9H1953.4M1969.8 1180.9H2003.4M1919.8 1170.9V1190.9M2003.4 1170.9V1190.9M1936.4 1264.7H1951.5M1967.9 1264.7H1983M1936.4 1254.7V1274.7M1983 1254.7V1274.7M1908.6 1338.5V1358.5M1916 1338.5V1358.5M1899.8 1432.3H1924.9M1941.3 1432.3H1966.4M1899.8 1422.3V1442.3M1966.4 1422.3V1442.3M1815.8 1516.1H1874.5M1891 1516.1H1949.7M1815.8 1506.1V1526.1M1949.7 1506.1V1526.1M1612.3 1599.9H1658.1M1674.5 1599.9H1720.3M1612.3 1589.9V1609.9M1720.3 1589.9V1609.9" stroke="#066FE3" stroke-width="1.35" fill="none"/>
<path d="M1588.6 342.9H1595.9M1612.3 342.9H1619.7M1588.6 332.9V352.9M1619.7 332.9V352.9M1621.2 416.7V436.7M1624.9 416.7V436.7M1593.4 510.5H1605.2M1621.6 510.5H1633.4M1593.4 500.5V520.5M1633.4 500.5V520.5M1474.3 584.3V604.3M1487.6 584.3V604.3M1580.5 668.1V688.1M1595.3 668.1V688.1M1929.7 751.9V771.9M1937.1 751.9V771.9M1974.1 845.7H1983M1999.4 845.7H2008.2M1974.1 835.7V855.7M2008.2 835.7V855.7M1999.7 929.5H2067.7M2084.1 929.5H2152.1M1999.7 919.5V939.5M2152.1 919.5V939.5M2021.5 1013.3H2064M2080.4 1013.3H2122.9M2021.5 1003.3V1023.3M2122.9 1003.3V1023.3M2092.2 1097.1H2096.2M2112.6 1097.1H2116.6M2092.2 1087.1V1107.1M2116.6 1087.1V1107.1M1936.4 1170.9V1190.9M1946.8 1170.9V1190.9M1897.9 1254.7V1274.7M1907.5 1254.7V1274.7M1964.9 1348.5H1967M1983.5 1348.5H1985.6M1964.9 1338.5V1358.5M1985.6 1338.5V1358.5M1857.6 1432.3H1895.6M1912 1432.3H1950.1M1857.6 1422.3V1442.3M1950.1 1422.3V1442.3M1754.7 1516.1H1845.3M1861.7 1516.1H1952.3M1754.7 1506.1V1526.1M1952.3 1506.1V1526.1M2121 1599.9H2124.3M2140.7 1599.9H2144M2121 1589.9V1609.9M2144 1589.9V1609.9" stroke="#04AD68" stroke-width="1.35" fill="none"/>
<path d="M1801 342.9H1816.1M1832.5 342.9H1847.6M1801 332.9V352.9M1847.6 332.9V352.9M1833.9 426.7H1885.3M1901.7 426.7H1953M1833.9 416.7V436.7M1953 416.7V436.7M1785.4 510.5H1790.9M1807.3 510.5H1812.8M1785.4 500.5V520.5M1812.8 500.5V520.5M1553.8 594.3H1667.3M1683.8 594.3H1797.3M1553.8 584.3V604.3M1797.3 584.3V604.3M1637.4 668.1V688.1M1653.7 668.1V688.1M2122.5 845.7H2146.9M2163.3 845.7H2187.6M2122.5 835.7V855.7M2187.6 835.7V855.7M2090.3 929.5H2097.3M2113.7 929.5H2120.7M2090.3 919.5V939.5M2120.7 919.5V939.5M2214.6 1003.3V1023.3M2228.7 1003.3V1023.3M2119.6 1097.1H2128.7M2145.1 1097.1H2154.3M2119.6 1087.1V1107.1M2154.3 1087.1V1107.1M2107 1180.9H2117.6M2134 1180.9H2144.7M2107 1170.9V1190.9M2144.7 1170.9V1190.9M1978.9 1264.7H2031.4M2047.8 1264.7H2100.3M1978.9 1254.7V1274.7M2100.3 1254.7V1274.7M1953.4 1348.5H1965.9M1982.3 1348.5H1994.9M1953.4 1338.5V1358.5M1994.9 1338.5V1358.5M2078.5 1432.3H2090.6M2107 1432.3H2119.2M2078.5 1422.3V1442.3M2119.2 1422.3V1442.3M1948.6 1506.1V1526.1M1952.3 1506.1V1526.1M2123.2 1599.9H2126.2M2142.5 1599.9H2145.4M2123.2 1589.9V1609.9M2145.4 1589.9V1609.9" stroke="#C07AE2" stroke-width="1.35" fill="none"/>
<path d="M1708.5 332.9V352.9M1715.9 332.9V352.9M1648.9 426.7H1650M1666.4 426.7H1667.4M1648.9 416.7V436.7M1667.4 416.7V436.7M1577.9 510.5H1601.5M1617.9 510.5H1641.5M1577.9 500.5V520.5M1641.5 500.5V520.5M1516.5 584.3V604.3M1531.2 584.3V604.3M1544.9 678.1H1606.7M1623.1 678.1H1684.8M1544.9 668.1V688.1M1684.8 668.1V688.1M1710 761.9H1729.9M1746.3 761.9H1766.2M1710 751.9V771.9M1766.2 751.9V771.9M2004.1 835.7V855.7M2013 835.7V855.7M2000 919.5V939.5M2009.7 919.5V939.5M2062.2 1013.3H2080.6M2097 1013.3H2115.5M2062.2 1003.3V1023.3M2115.5 1003.3V1023.3M1992.6 1097.1H2000.7M2017.1 1097.1H2025.2M1992.6 1087.1V1107.1M2025.2 1087.1V1107.1M1952.3 1180.9H1970.7M1987.1 1180.9H2005.6M1952.3 1170.9V1190.9M2005.6 1170.9V1190.9M1990 1254.7V1274.7M1993.8 1254.7V1274.7M1942.7 1348.5H1947.4M1963.8 1348.5H1968.6M1942.7 1338.5V1358.5M1968.6 1338.5V1358.5M2055.2 1422.3V1442.3M2062.6 1422.3V1442.3M1808.4 1516.1H1814.6M1831 1516.1H1837.2M1808.4 1506.1V1526.1M1837.2 1506.1V1526.1M2082.2 1589.9V1609.9M2098.5 1589.9V1609.9" stroke="#DF9C03" stroke-width="1.35" fill="none"/>
<path d="M1678.1 332.9V352.9M1684.1 332.9V352.9M1638.2 416.7V436.7M1641.9 416.7V436.7M1502.4 510.5H1532.3M1548.7 510.5H1578.6M1502.4 500.5V520.5M1578.6 500.5V520.5M1508.7 584.3V604.3M1512.4 584.3V604.3M1537.2 678.1H1584.8M1601.2 678.1H1648.9M1537.2 668.1V688.1M1648.9 668.1V688.1M1933.1 761.9H1936.3M1952.7 761.9H1956M1933.1 751.9V771.9M1956 751.9V771.9M1964.9 845.7H1973.3M1989.7 845.7H1998.2M1964.9 835.7V855.7M1998.2 835.7V855.7M2126.6 919.5V939.5M2130.3 919.5V939.5M2035.9 1013.3H2042.2M2058.6 1013.3H2064.8M2035.9 1003.3V1023.3M2064.8 1003.3V1023.3M2021.1 1097.1H2022.2M2038.6 1097.1H2039.6M2021.1 1087.1V1107.1M2039.6 1087.1V1107.1M1941.2 1180.9H1943.4M1959.8 1180.9H1961.9M1941.2 1170.9V1190.9M1961.9 1170.9V1190.9M1923.4 1254.7V1274.7M1936 1254.7V1274.7M1935.7 1338.5V1358.5M1950.5 1338.5V1358.5M1747.7 1432.3H1793.1M1809.5 1432.3H1855M1747.7 1422.3V1442.3M1855 1422.3V1442.3M2039.6 1516.1H2079.2M2095.6 1516.1H2135.1M2039.6 1506.1V1526.1M2135.1 1506.1V1526.1M2122.1 1599.9H2135.4M2151.8 1599.9H2165.1M2122.1 1589.9V1609.9M2165.1 1589.9V1609.9" stroke="#03C9CC" stroke-width="1.35" fill="none"/>
<path d="M206 1683.7V258.9H1226" stroke="#000" stroke-width="4" fill="none" stroke-linecap="square" stroke-linejoin="miter"/>
<path d="M410 258.9V270.9M614 258.9V270.9M818 258.9V270.9M1022 258.9V270.9M1226 258.9V270.9M206 342.9H218M206 426.7H218M206 510.5H218M206 594.3H218M206 678.1H218M206 761.9H218M206 845.7H218M206 929.5H218M206 1013.3H218M206 1097.1H218M206 1180.9H218M206 1264.7H218M206 1348.5H218M206 1432.3H218M206 1516.1H218M206 1599.9H218M206 1683.7H218" stroke="#000" stroke-width="4" fill="none"/>
<text x="206" y="231.5" text-anchor="middle" class="t">0</text>
<text x="410" y="231.5" text-anchor="middle" class="t">4</text>
<text x="614" y="231.5" text-anchor="middle" class="t">8</text>
<text x="818" y="231.5" text-anchor="middle" class="t">12</text>
<text x="1022" y="231.5" text-anchor="middle" class="t">16</text>
<text x="1226" y="231.5" text-anchor="middle" class="t">20</text>
<text x="193.5" y="359" text-anchor="end" class="t">0</text>
<text x="193.5" y="526.6" text-anchor="end" class="t">20</text>
<text x="193.5" y="694.2" text-anchor="end" class="t">40</text>
<text x="193.5" y="861.8" text-anchor="end" class="t">60</text>
<text x="193.5" y="1029.4" text-anchor="end" class="t">80</text>
<text x="193.5" y="1197" text-anchor="end" class="t">100</text>
<text x="193.5" y="1364.6" text-anchor="end" class="t">120</text>
<text x="193.5" y="1532.2" text-anchor="end" class="t">140</text>
<text x="193.5" y="1699.8" text-anchor="end" class="t">160</text>
<path d="M1314.4 1683.7V258.9H2334.8" stroke="#000" stroke-width="4" fill="none" stroke-linecap="square" stroke-linejoin="miter"/>
<path d="M1407.6 258.9V270.9M1593 258.9V270.9M1778.5 258.9V270.9M1963.9 258.9V270.9M2149.4 258.9V270.9M2334.8 258.9V270.9M1314.4 342.9H1326.4M1314.4 426.7H1326.4M1314.4 510.5H1326.4M1314.4 594.3H1326.4M1314.4 678.1H1326.4M1314.4 761.9H1326.4M1314.4 845.7H1326.4M1314.4 929.5H1326.4M1314.4 1013.3H1326.4M1314.4 1097.1H1326.4M1314.4 1180.9H1326.4M1314.4 1264.7H1326.4M1314.4 1348.5H1326.4M1314.4 1432.3H1326.4M1314.4 1516.1H1326.4M1314.4 1599.9H1326.4M1314.4 1683.7H1326.4" stroke="#000" stroke-width="4" fill="none"/>
<text x="1407.6" y="231.5" text-anchor="middle" class="t">10</text>
<text x="1593" y="231.5" text-anchor="middle" class="t">15</text>
<text x="1778.5" y="231.5" text-anchor="middle" class="t">20</text>
<text x="1963.9" y="231.5" text-anchor="middle" class="t">25</text>
<text x="2149.4" y="231.5" text-anchor="middle" class="t">30</text>
<text x="2334.8" y="231.5" text-anchor="middle" class="t">35</text>
<text x="1301.9" y="359" text-anchor="end" class="t">0</text>
<text x="1301.9" y="526.6" text-anchor="end" class="t">20</text>
<text x="1301.9" y="694.2" text-anchor="end" class="t">40</text>
<text x="1301.9" y="861.8" text-anchor="end" class="t">60</text>
<text x="1301.9" y="1029.4" text-anchor="end" class="t">80</text>
<text x="1301.9" y="1197" text-anchor="end" class="t">100</text>
<text x="1301.9" y="1364.6" text-anchor="end" class="t">120</text>
<text x="1301.9" y="1532.2" text-anchor="end" class="t">140</text>
<text x="1301.9" y="1699.8" text-anchor="end" class="t">160</text>
<line x1="1409.4" x2="1503.1" y1="1086.2" y2="1086.2" stroke="#737373" stroke-width="1.35"/>
<g fill="#737373" stroke="#737373" stroke-width="1.0" stroke-linejoin="round"><rect x="1446.5" y="1076.5" width="19.5" height="19.5"/></g>
<text x="1527.5" y="1103.7" class="l">Apr</text>
<line x1="1409.4" x2="1503.1" y1="1150.4" y2="1150.4" stroke="#FA4040" stroke-width="1.35"/>
<g fill="#FA4040" stroke="#FA4040" stroke-width="1.0" stroke-linejoin="round"><circle cx="1456.2" cy="1150.4" r="11.3"/></g>
<text x="1527.5" y="1167.9" class="l">May</text>
<line x1="1409.4" x2="1503.1" y1="1214.9" y2="1214.9" stroke="#066FE3" stroke-width="1.35"/>
<g fill="#066FE3" stroke="#066FE3" stroke-width="1.0" stroke-linejoin="round"><polygon points="1456.2,1198.8 1442.2,1223 1470.2,1223"/></g>
<text x="1527.5" y="1232.4" class="l">Jun</text>
<line x1="1409.4" x2="1503.1" y1="1278.7" y2="1278.7" stroke="#04AD68" stroke-width="1.35"/>
<g fill="#04AD68" stroke="#04AD68" stroke-width="1.0" stroke-linejoin="round"><polygon points="1456.2,1294.8 1442.2,1270.6 1470.2,1270.6"/></g>
<text x="1527.5" y="1296.2" class="l">Jul</text>
<line x1="1409.4" x2="1503.1" y1="1342.9" y2="1342.9" stroke="#C07AE2" stroke-width="1.35"/>
<g fill="#C07AE2" stroke="#C07AE2" stroke-width="1.0" stroke-linejoin="round"><polygon points="1456.2,1328.1 1470.7,1342.9 1456.2,1357.7 1441.7,1342.9"/></g>
<text x="1527.5" y="1360.4" class="l">Aug</text>
<line x1="1409.4" x2="1503.1" y1="1407.4" y2="1407.4" stroke="#DF9C03" stroke-width="1.35"/>
<g fill="#DF9C03" stroke="#DF9C03" stroke-width="1.0" stroke-linejoin="round"><polygon points="1440.1,1407.4 1464.3,1393.4 1464.3,1421.4"/></g>
<text x="1527.5" y="1424.9" class="l">Sep</text>
<line x1="1409.4" x2="1503.1" y1="1471.9" y2="1471.9" stroke="#03C9CC" stroke-width="1.35"/>
<g fill="#03C9CC" stroke="#03C9CC" stroke-width="1.0" stroke-linejoin="round"><polygon points="1472.3,1471.9 1448.1,1457.9 1448.1,1485.9"/></g>
<text x="1527.5" y="1489.4" class="l">Oct</text>
<text x="432" y="149.5" style="font-size:56.5px">Soil water content</text>
<text transform="translate(836.8 147.1) scale(1 0.81)" class="t">（</text>
<text x="897.7" y="149.5" style="font-size:56.5px">%</text>
<text transform="translate(950.2 147.1) scale(1 0.81)" class="t">）</text>
<text x="1541.5" y="159.8" style="font-size:56.2px">Soil water content</text>
<text transform="translate(1944.8 157.4) scale(1 0.81)" class="t">（</text>
<text x="2006.8" y="159.8" style="font-size:56.2px">%</text>
<text transform="translate(2058.2 157.4) scale(1 0.81)" class="t">）</text>
<text transform="translate(90.4 1177.6) rotate(-90)" class="t">Soil depth</text>
<text transform="translate(87.8 951.6) rotate(-90) scale(1 0.84)" class="t">（</text>
<text transform="translate(90.4 890.7) rotate(-90)" class="t">cm</text>
<text transform="translate(87.8 817.7) rotate(-90) scale(1 0.84)" class="t">）</text>
<text x="1120" y="342.2" class="p">(a)</text>
<text x="2201.4" y="342.2" class="p">(b)</text>
</svg>
</body></html>
